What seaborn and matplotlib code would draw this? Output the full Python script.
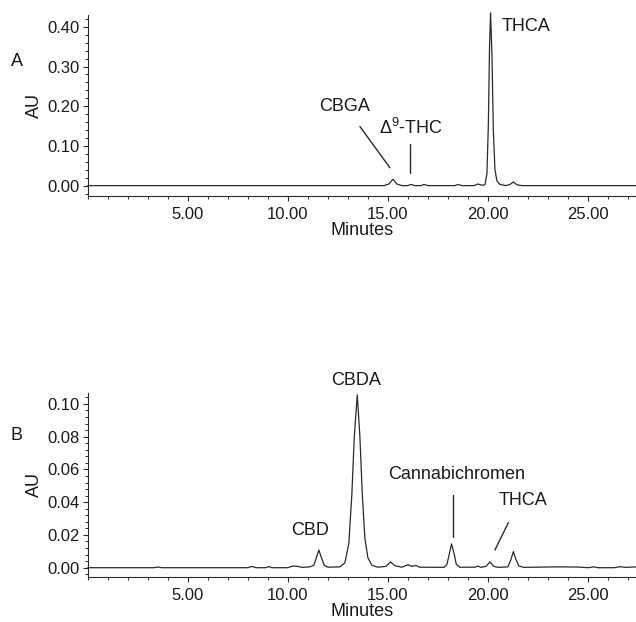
import numpy as np
import pandas as pd
import matplotlib
matplotlib.use("Agg")
import matplotlib.pyplot as plt
import seaborn as sns
from matplotlib.ticker import MultipleLocator, AutoMinorLocator, FormatStrFormatter

# trace A (THCA-rich sample)
time_a = [0.0, 8.0, 10.0, 14.8, 15.05, 15.25, 15.45, 15.7, 16.0, 16.15, 16.35,
          16.65, 16.8, 17.0, 18.35, 18.5, 18.7, 19.3, 19.5, 19.7, 19.85, 19.95,
          20.02, 20.08, 20.13, 20.2, 20.27, 20.35, 20.45, 20.6, 20.9, 21.1,
          21.27, 21.45, 21.7, 27.4]
au_a = [0.0, 0.0, 0.0, 0.0, 0.004, 0.016, 0.004, 0.0, 0.0, 0.003, 0.0,
        0.0, 0.003, 0.0, 0.0, 0.003, 0.0, 0.0, 0.004, 0.001, 0.002, 0.03,
        0.15, 0.35, 0.435, 0.33, 0.14, 0.04, 0.012, 0.003, 0.0, 0.003,
        0.009, 0.002, 0.0, 0.0]

# trace B (CBDA-rich sample)
time_b = [0.0, 3.3, 3.5, 3.7, 8.0, 8.2, 8.4, 8.9, 9.05, 9.2, 10.0, 10.25, 10.5,
          10.7, 11.1, 11.3, 11.42, 11.55, 11.68, 11.82, 12.0, 12.6, 12.85,
          13.05, 13.2, 13.32, 13.47, 13.6, 13.72, 13.85, 14.0, 14.2, 14.5,
          14.9, 15.13, 15.35, 15.7, 16.0, 16.2, 16.4, 16.6, 17.8, 17.95,
          18.08, 18.18, 18.3, 18.42, 18.6, 19.35, 19.5, 19.65, 19.9, 20.1,
          20.3, 20.5, 21.0, 21.15, 21.27, 21.4, 21.55, 21.8, 23.5, 24.5,
          25.0, 25.3, 25.5, 26.3, 26.6, 26.9, 27.4]
au_b = [0.0, 0.0, 0.0004, 0.0, 0.0, 0.0008, 0.0, 0.0, 0.0007, 0.0, 0.0, 0.001, 0.0008,
        0.0002, 0.0005, 0.0015, 0.006, 0.0108, 0.006, 0.0015, 0.0003, 0.0005, 0.003,
        0.015, 0.045, 0.08, 0.1055, 0.08, 0.045, 0.018, 0.006, 0.0015, 0.0003,
        0.0008, 0.0035, 0.0012, 0.0003, 0.0018, 0.0008, 0.0014, 0.0003, 0.0002, 0.002,
        0.009, 0.0145, 0.009, 0.002, 0.0003, 0.0003, 0.001, 0.0002, 0.0008, 0.0035,
        0.0008, 0.0002, 0.0005, 0.005, 0.0098, 0.005, 0.001, 0.0002, 0.0005, 0.0004,
        0.0, 0.0005, 0.0, 0.0, 0.0006, 0.0002, 0.0005]

x_ticks = [5, 10, 15, 20, 25]

# peak labels: text, x, y ; leader lines: x0, y0, x1, y1
labels_a = [("CBGA", 12.85, 0.20), (r"$\mathregular{\Delta^9}$-THC", 16.15, 0.146)]
thca_a = ("THCA", 20.7, 0.402)
lines_a = [(13.6, 0.149, 15.1, 0.045), (16.1, 0.106, 16.1, 0.033)]

labels_b = [("CBDA", 13.4, 0.1145), ("CBD", 11.1, 0.023),
            ("Cannabichromen", 18.45, 0.057), ("THCA", 21.75, 0.041)]
lines_b = [(18.23, 0.0444, 18.23, 0.019), (21.02, 0.0275, 20.35, 0.0108)]

sns.set_style("ticks")
plt.rcParams['font.family'] = ['Liberation Sans', 'DejaVu Sans']
plt.rcParams['mathtext.fontset'] = 'custom'
plt.rcParams['mathtext.rm'] = 'Liberation Sans'

ink = '#2a2a2a'
fig = plt.figure(figsize=(6.36, 6.22), dpi=100)
ax1 = fig.add_axes([0.138, 0.685, 0.862, 0.291])
ax2 = fig.add_axes([0.138, 0.0723, 0.862, 0.296])

df_a = pd.DataFrame({"Minutes": time_a, "AU": au_a})
df_b = pd.DataFrame({"Minutes": time_b, "AU": au_b})
sns.lineplot(data=df_a, x="Minutes", y="AU", ax=ax1, color=ink, lw=0.9, clip_on=False)
sns.lineplot(data=df_b, x="Minutes", y="AU", ax=ax2, color=ink, lw=0.9, clip_on=False)

ax1.set_ylim(-0.026, 0.43)
ax2.set_ylim(-0.0057, 0.1067)

for ax, major in [(ax1, 0.1), (ax2, 0.02)]:
    sns.despine(ax=ax)
    for s in ax.spines.values():
        s.set_linewidth(0.8)
        s.set_color(ink)
    ax.set_xticks(x_ticks)
    ax.xaxis.set_minor_locator(MultipleLocator(1))
    ax.xaxis.set_major_formatter(FormatStrFormatter('%.2f'))
    ax.set_xlim(0, 27.4)
    ax.yaxis.set_major_locator(MultipleLocator(major))
    ax.yaxis.set_minor_locator(AutoMinorLocator(5))
    ax.yaxis.set_major_formatter(FormatStrFormatter('%.2f'))
    ax.tick_params(which='major', length=3.6, width=0.8, color=ink, labelsize=12, labelcolor='#1a1a1a')
    ax.tick_params(which='minor', length=2.2, width=0.7, color=ink)
    ax.tick_params(axis='x', which='major', pad=4.5)
    ax.tick_params(axis='y', which='major', pad=2)
    ax.set_xlabel("Minutes", fontsize=13, labelpad=0, color='#1a1a1a')
    ax.set_ylabel("AU", fontsize=13, color='#1a1a1a')
    ax.yaxis.set_label_coords(-0.082, 0.5)

for text, x, y in labels_a:
    ax1.text(x, y, text, ha='center', va='center', fontsize=13, color='#1a1a1a')
ax1.text(thca_a[1], thca_a[2], thca_a[0], ha='left', va='center', fontsize=13, color='#1a1a1a')
for x0, y0, x1, y1 in lines_a:
    ax1.plot([x0, x1], [y0, y1], color=ink, lw=1.0)

for text, x, y in labels_b:
    ax2.text(x, y, text, ha='center', va='center', fontsize=13, color='#1a1a1a')
for x0, y0, x1, y1 in lines_b:
    ax2.plot([x0, x1], [y0, y1], color=ink, lw=1.0)

fig.text(17 / 636, 1 - 61 / 622, "A", ha='center', va='center', fontsize=13, color='#1a1a1a')
fig.text(16 / 636, 1 - 435 / 622, "B", ha='center', va='center', fontsize=13, color='#1a1a1a')

fig.savefig("out.png", dpi=100)
